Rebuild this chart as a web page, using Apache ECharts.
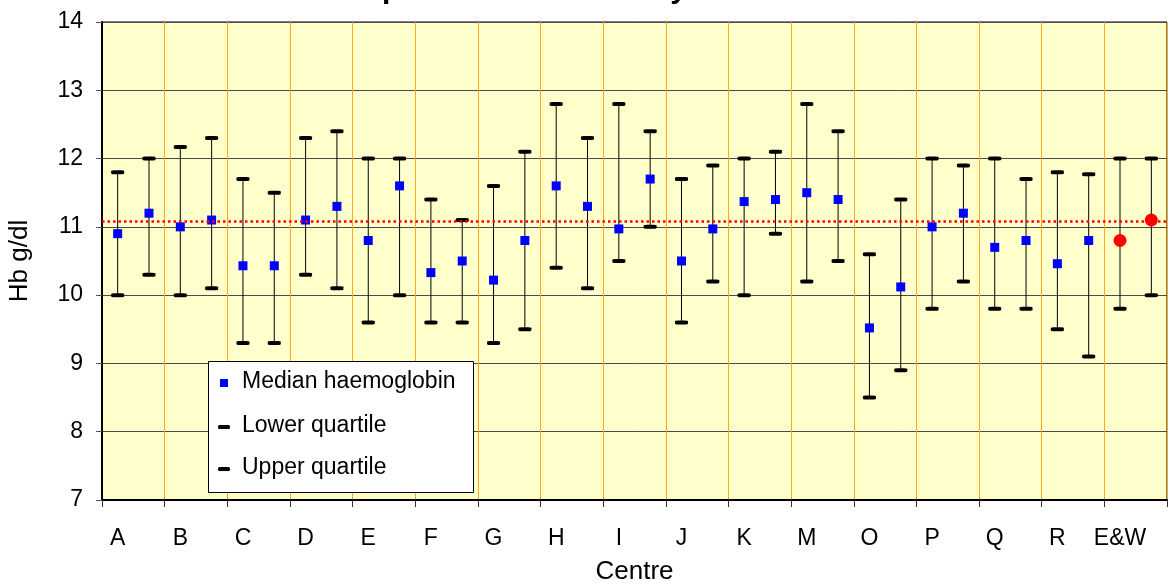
<!DOCTYPE html>
<html>
<head>
<meta charset="utf-8">
<title>Hb by centre</title>
<script src="https://cdn.jsdelivr.net/npm/echarts@6/dist/echarts.min.js"></script>
<style>
  html, body { margin: 0; padding: 0; background: #fff; }
  #chart { width: 1169px; height: 585px; }
</style>
</head>
<body>
<div id="chart"></div>
<script>
// Centres, each with two adjacent error bars
const centres = ['A', 'B', 'C', 'D', 'E', 'F', 'G', 'H', 'I', 'J', 'K', 'M', 'O', 'P', 'Q', 'R', 'E&W'];

// Median haemoglobin (g/dl), two values per centre
const medianHb = [
  10.9, 11.2,   11.0, 11.1,   10.43, 10.43, 11.1, 11.3,
  10.8, 11.6,   10.33, 10.5,  10.22, 10.8,  11.6, 11.3,
  10.97, 11.7,  10.5, 10.97,  11.37, 11.4,  11.5, 11.4,
  9.52, 10.12,  11.0, 11.2,   10.7, 10.8,   10.46, 10.8,
  10.8, 11.1
];

// Lower quartile (g/dl)
const lowerQuartile = [
  10.0, 10.3,   10.0, 10.1,   9.3, 9.3,     10.3, 10.1,
  9.6, 10.0,    9.6, 9.6,     9.3, 9.5,     10.4, 10.1,
  10.5, 11.0,   9.6, 10.2,    10.0, 10.9,   10.2, 10.5,
  8.5, 8.9,     9.8, 10.2,    9.8, 9.8,     9.5, 9.1,
  9.8, 10.0
];

// Upper quartile (g/dl)
const upperQuartile = [
  11.8, 12.0,   12.17, 12.3,  11.7, 11.5,   12.3, 12.4,
  12.0, 12.0,   11.4, 11.1,   11.6, 12.1,   12.8, 12.3,
  12.8, 12.4,   11.7, 11.9,   12.0, 12.1,   12.8, 12.4,
  10.6, 11.4,   12.0, 11.9,   12.0, 11.7,   11.8, 11.77,
  12.0, 12.0
];

// England & Wales reference median (dotted line)
const referenceHb = 11.08;

// Value axis ticks
const yMin = 7, yMax = 14, yStep = 1;

const FONT = 'Liberation Sans, Arial, sans-serif';

// Two slots per centre on the category axis
const slots = [];
centres.forEach(c => { slots.push(c + '|1'); slots.push(c + '|2'); });
const ewStart = (centres.length - 1) * 2;

const medianData = medianHb.map((v, i) => {
  if (i >= ewStart) {
    return { value: v, symbol: 'circle', symbolSize: 13, itemStyle: { color: '#FF0000' } };
  }
  return v;
});

const whiskerData = lowerQuartile.map((lo, i) => [i, lo, upperQuartile[i]]);

const chart = echarts.init(document.getElementById('chart'), null, { renderer: 'canvas' });

const LEGEND_Z = 100;
const LEGEND_FONT = '23px ' + FONT;

const option = {
  animation: false,
  backgroundColor: '#ffffff',
  textStyle: { fontFamily: FONT },
  title: {
    text: 'Hb on presentation for dialysis 2004-2005',
    left: 'center',
    top: -30,
    textStyle: { fontFamily: FONT, fontSize: 30, fontWeight: 'bold', color: '#000' }
  },
  grid: {
    left: 102, right: 2, top: 22, bottom: 85,
    outerBoundsMode: 'none',
    containLabel: false,
    show: true,
    backgroundColor: '#FFFFCC',
    borderColor: '#000',
    borderWidth: 1
  },
  xAxis: {
    type: 'category',
    data: slots,
    boundaryGap: true,
    name: 'Centre',
    nameLocation: 'middle',
    nameGap: 59,
    nameTextStyle: { fontFamily: FONT, fontSize: 26, color: '#000' },
    axisLine: { show: true, lineStyle: { color: '#000', width: 2 } },
    axisTick: {
      show: true,
      interval: (i) => i % 2 === 0,
      length: 7,
      lineStyle: { color: '#333', width: 1 }
    },
    axisLabel: {
      interval: (i) => i % 2 === 0,
      formatter: (v) => v.split('|')[0],
      margin: 27,
      fontFamily: FONT,
      fontSize: 23,
      color: '#000'
    },
    splitLine: {
      show: true,
      interval: (i) => i % 2 === 0 && i > 0,
      lineStyle: { color: '#FFA61F', width: 1 }
    }
  },
  yAxis: {
    type: 'value',
    min: yMin, max: yMax, interval: yStep,
    name: 'Hb g/dl',
    nameLocation: 'middle',
    nameGap: 69,
    nameTextStyle: { fontFamily: FONT, fontSize: 26, color: '#000' },
    axisLine: { show: true, lineStyle: { color: '#000', width: 2 } },
    axisTick: { show: true, length: 6, lineStyle: { color: '#555' } },
    axisLabel: { margin: 19, fontFamily: FONT, fontSize: 23, color: '#000' },
    splitLine: { show: true, lineStyle: { color: '#4a4a4a', width: 1 } }
  },
  series: [
    {
      name: 'Interquartile range',
      type: 'custom',
      z: 1,
      data: whiskerData,
      encode: { x: 0, y: [1, 2] },
      renderItem: (params, api) => {
        const x = api.value(0);
        const lo = api.coord([x, api.value(1)]);
        const hi = api.coord([x, api.value(2)]);
        return {
          type: 'line',
          shape: { x1: lo[0], y1: lo[1], x2: hi[0], y2: hi[1] },
          style: { stroke: '#000', lineWidth: 1 }
        };
      }
    },
    {
      name: 'Lower quartile',
      type: 'scatter',
      z: 2,
      symbol: 'roundRect',
      symbolSize: [13, 4],
      itemStyle: { color: '#000', opacity: 1 },
      data: lowerQuartile
    },
    {
      name: 'Upper quartile',
      type: 'scatter',
      z: 2,
      symbol: 'roundRect',
      symbolSize: [13, 4],
      itemStyle: { color: '#000', opacity: 1 },
      data: upperQuartile
    },
    {
      name: 'Median haemoglobin',
      type: 'scatter',
      z: 3,
      symbol: 'rect',
      symbolSize: 9,
      itemStyle: { color: '#0000FF', opacity: 1 },
      data: medianData,
      markLine: {
        silent: true,
        symbol: 'none',
        label: { show: false },
        lineStyle: { color: '#FF0000', width: 2.5, type: [2.5, 3] },
        data: [{ yAxis: referenceHb }]
      }
    }
  ],
  // Legend box drawn over the plot area
  graphic: [
    { type: 'rect', z: LEGEND_Z, left: 208, top: 361,
      shape: { width: 265, height: 131 },
      style: { fill: '#ffffff', stroke: '#000', lineWidth: 1 } },
    { type: 'rect', z: LEGEND_Z + 1, left: 220, top: 379,
      shape: { width: 8, height: 8 },
      style: { fill: '#0000FF' } },
    { type: 'text', z: LEGEND_Z + 1, left: 242, top: 370,
      style: { text: 'Median haemoglobin', fill: '#000', font: LEGEND_FONT } },
    { type: 'rect', z: LEGEND_Z + 1, left: 218, top: 425,
      shape: { width: 12, height: 4, r: 1.5 },
      style: { fill: '#000' } },
    { type: 'text', z: LEGEND_Z + 1, left: 242, top: 414,
      style: { text: 'Lower quartile', fill: '#000', font: LEGEND_FONT } },
    { type: 'rect', z: LEGEND_Z + 1, left: 218, top: 467,
      shape: { width: 12, height: 4, r: 1.5 },
      style: { fill: '#000' } },
    { type: 'text', z: LEGEND_Z + 1, left: 242, top: 456,
      style: { text: 'Upper quartile', fill: '#000', font: LEGEND_FONT } }
  ]
};

chart.setOption(option);
</script>
</body>
</html>
